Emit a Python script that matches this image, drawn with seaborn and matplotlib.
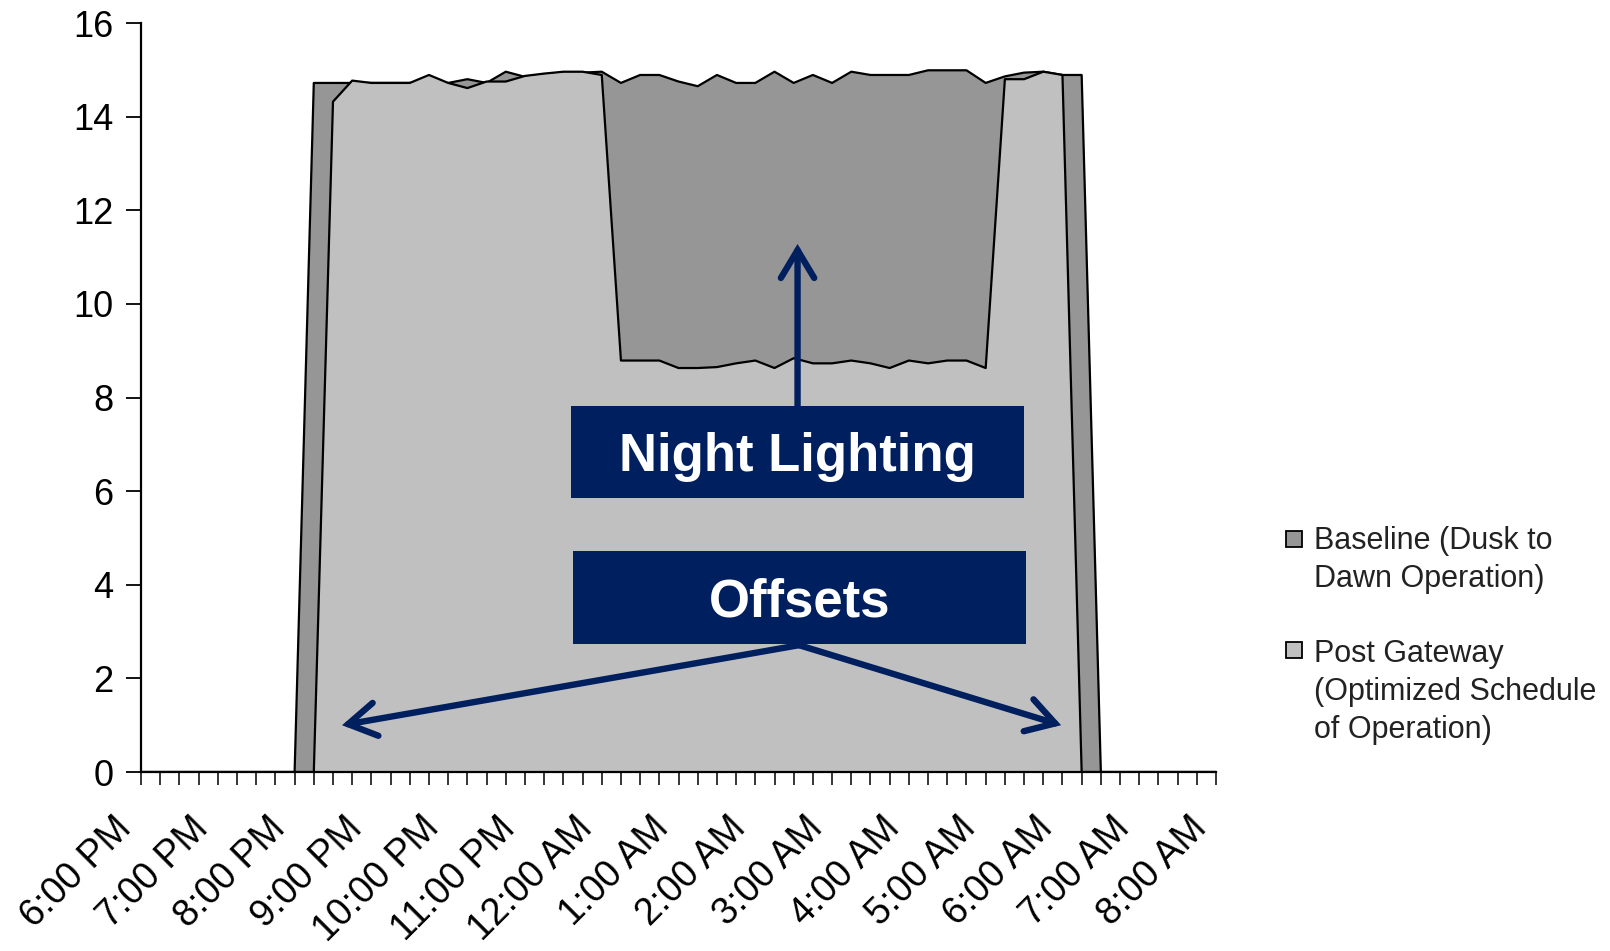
import matplotlib
matplotlib.use("Agg")
import matplotlib.pyplot as plt
from matplotlib.patches import Rectangle
from matplotlib.transforms import ScaledTranslation
import numpy as np
import pandas as pd
import seaborn as sns

# Street-lighting load (kW) sampled every 15 minutes, 6:00 PM -> 8:00 AM (57 samples)
baseline_kw = [
    0, 0, 0, 0, 0, 0, 0, 0, 0,
    14.72, 14.72, 14.72, 14.72, 14.72, 14.72, 14.72, 14.72,
    14.80, 14.72, 14.96, 14.85, 14.90, 14.94, 14.94, 14.96,
    14.72, 14.89, 14.89, 14.75, 14.65, 14.89, 14.72, 14.72,
    14.96, 14.72, 14.89, 14.72, 14.96, 14.89, 14.89, 14.89,
    14.99, 14.99, 14.99, 14.72, 14.86, 14.94, 14.96, 14.89,
    14.89,
    0, 0, 0, 0, 0, 0, 0,
]
post_gateway_kw = [
    0, 0, 0, 0, 0, 0, 0, 0, 0, 0,
    14.32, 14.77, 14.72, 14.72, 14.72, 14.89, 14.72, 14.61,
    14.75, 14.75, 14.87, 14.92, 14.96, 14.96, 14.89,
    8.79, 8.79, 8.79, 8.63, 8.63, 8.65, 8.73, 8.79,
    8.63, 8.84, 8.73, 8.73, 8.79, 8.73, 8.63, 8.79,
    8.73, 8.79, 8.79, 8.63,
    14.80, 14.80, 14.96, 14.89,
    0, 0, 0, 0, 0, 0, 0, 0,
]
hour_labels = [
    "6:00 PM", "7:00 PM", "8:00 PM", "9:00 PM", "10:00 PM", "11:00 PM",
    "12:00 AM", "1:00 AM", "2:00 AM", "3:00 AM", "4:00 AM", "5:00 AM",
    "6:00 AM", "7:00 AM", "8:00 AM",
]
series_names = [
    "Baseline (Dusk to\nDawn Operation)",
    "Post Gateway\n(Optimized Schedule\nof Operation)",
]
series_colors = ["#969696", "#c0c0c0"]
NAVY = "#001f5f"

sns.set_theme(style="ticks")
plt.rcParams["font.family"] = ["Liberation Sans", "DejaVu Sans"]

df = pd.DataFrame({
    "slot": np.arange(len(baseline_kw)),
    "baseline": baseline_kw,
    "post": post_gateway_kw,
})

fig = plt.figure(figsize=(16.1, 9.51), dpi=100)
ax = fig.add_axes([0.0876, 0.1882, 0.6677, 0.7876])

# baseline area behind, optimized schedule in front
ax.fill_between(df["slot"], df["baseline"], color=series_colors[0], lw=0, zorder=1)
sns.lineplot(data=df, x="slot", y="baseline", color="black", lw=1.6, ax=ax, zorder=2)
ax.fill_between(df["slot"], df["post"], color=series_colors[1], lw=0, zorder=3)
sns.lineplot(data=df, x="slot", y="post", color="black", lw=1.6, ax=ax, zorder=4)

ax.set_xlim(0, len(baseline_kw) - 1)
ax.set_ylim(0, 16)
ax.set_xlabel("")
ax.set_ylabel("")
sns.despine(ax=ax)
for side in ("left", "bottom"):
    ax.spines[side].set_linewidth(1.6)
    ax.spines[side].set_color("black")
    ax.spines[side].set_zorder(6)

ax.set_yticks(np.arange(0, 17, 2))
ax.tick_params(axis="y", length=11, width=1.3, pad=9, labelsize=26, colors="black")

major = np.arange(0, len(baseline_kw), 4)
ax.set_xticks(major)
ax.set_xticks(np.arange(len(baseline_kw)), minor=True)
ax.set_xticklabels(hour_labels, rotation=45, ha="right", va="center",
                   rotation_mode="anchor", fontsize=27, color="black")
ax.tick_params(axis="x", which="both", length=9.5, width=1.3, pad=27)
shift = ScaledTranslation(-0.15, 0, fig.dpi_scale_trans)
for lbl in ax.get_xticklabels():
    lbl.set_transform(lbl.get_transform() + shift)

# annotation boxes
boxes = [
    ((22.4, 5.85), 23.6, 1.97, "Night Lighting"),
    ((22.5, 2.74), 23.6, 1.98, "Offsets"),
]
for (x0, y0), w, h, label in boxes:
    ax.add_patch(Rectangle((x0, y0), w, h, facecolor=NAVY, edgecolor="none", zorder=8))
    ax.text(x0 + w / 2, y0 + h / 2 - 0.11, label, ha="center", va="center", color="white",
            fontsize=38, fontweight="bold", zorder=9)

arrow_kw = dict(arrowstyle="->,head_length=20,head_width=12", lw=4.6, color=NAVY,
                mutation_scale=1, shrinkA=0, shrinkB=0, capstyle="round",
                joinstyle="miter")
ax.annotate("", xy=(34.2, 11.28), xytext=(34.2, 7.82), arrowprops=arrow_kw, zorder=8)
ax.annotate("", xy=(10.47, 1.0), xytext=(34.28, 2.71), arrowprops=arrow_kw, zorder=8)
ax.annotate("", xy=(47.93, 1.0), xytext=(34.28, 2.71), arrowprops=arrow_kw, zorder=8)

# legend entries with the swatch beside the first text line
legend_rows = [(0.4248, 0.4467), (0.3080, 0.3278)]
for name, color, (sq_y, txt_y) in zip(series_names, series_colors, legend_rows):
    fig.patches.append(Rectangle((0.7988, sq_y), 0.00994, 0.0168, transform=fig.transFigure,
                                 facecolor=color, edgecolor="black", lw=1.3))
    fig.text(0.816, txt_y, name, ha="left", va="top", fontsize=22, color="#222222",
             linespacing=1.34)

fig.savefig("out.png", dpi=100, facecolor="white")
